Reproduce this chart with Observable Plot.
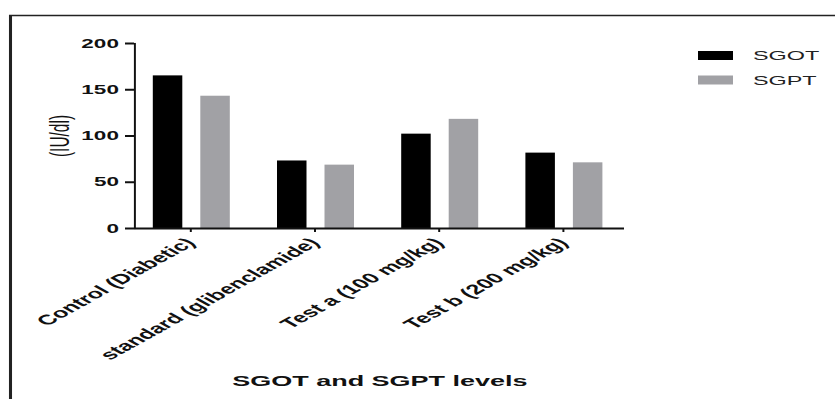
<!DOCTYPE html>
<html>
<head>
<meta charset="utf-8">
<script src="https://cdn.jsdelivr.net/npm/d3@7"></script>
<script src="https://cdn.jsdelivr.net/npm/@observablehq/plot@0.6"></script>
<style>
  html, body { margin: 0; padding: 0; background: #fff; }
  #chart svg { display: block; }
</style>
</head>
<body>
<div id="chart"></div>
<script>
// Treatment groups and measured enzyme levels (IU/dl)
const categories = ["Control (Diabetic)", "standard (glibenclamide)", "Test a (100 mg/kg)", "Test b (200 mg/kg)"];
const series = ["SGOT", "SGPT"];
const sgot = [165, 73, 102, 81.5];
const sgpt = [143, 68.5, 118, 71];
const yTicks = [0, 50, 100, 150, 200];
const seriesColors = ["#000000", "#a1a1a5"];
const yLabel = "(IU/dl)";
const xTitle = "SGOT and SGPT levels";

const rows = categories.flatMap((c, i) => [
  {category: c, series: series[0], value: sgot[i]},
  {category: c, series: series[1], value: sgpt[i]}
]);

// The chart is laid out on a narrow canvas and then stretched horizontally.
const STRETCH = 1.8;
const W = 835, H = 399;
const w = W / STRETCH;
const s = v => v / STRETCH;          // horizontal pixel -> canvas pixel

const font = "'Liberation Sans', Arial, sans-serif";
const step = 125.7;                  // width of one group band (stretched px)

const plot = Plot.plot({
  width: w,
  height: H,
  marginTop: 43,
  marginBottom: H - 228,
  marginLeft: s(134),
  marginRight: w - s(624),
  style: {fontFamily: font, background: "#fff", color: "#111"},
  x: {domain: categories, range: [s(125.5), s(125.5 + 4 * step)], padding: 0, label: null},
  y: {domain: [0, 200], label: null},
  color: {domain: series, range: seriesColors},
  marks: [
    Plot.barY(rows.filter(d => d.series === series[0]), {
      x: "category", y: "value", fill: "series",
      insetLeft: s(25), insetRight: s(step - 56)
    }),
    Plot.barY(rows.filter(d => d.series === series[1]), {
      x: "category", y: "value", fill: "series",
      insetLeft: s(72.5), insetRight: s(step - 103.5)
    }),
    Plot.ruleY([0], {stroke: "#111", strokeWidth: 2}),
    Plot.frame({anchor: "left", stroke: "#111", strokeWidth: 1.1}),
    Plot.axisY({
      ticks: yTicks, tickSize: s(9), tickPadding: s(7), strokeWidth: 2,
      fontSize: 12.5, fontWeight: "bold", label: null
    }),
    Plot.axisX({
      tickSize: 4, tickPadding: 8, tickRotate: -45, strokeWidth: 1.1,
      fontSize: 14, fontWeight: "bold", label: null
    }),
    Plot.text([yLabel], {
      frameAnchor: "left", textAnchor: "middle", rotate: -90, dx: -s(134 - 59),
      fontSize: 15.5, fill: "#111"
    }),
    Plot.text([xTitle], {
      frameAnchor: "bottom", dy: 153, lineAnchor: "middle",
      fontSize: 15, fontWeight: "bold", fill: "#111"
    })
  ]
});

const svg = d3.select(plot);

// Legend built from the series names and the color scale
const color = plot.scale("color");
const legend = svg.append("g")
  .attr("font-family", font).attr("font-size", 13).attr("text-anchor", "start");
series.forEach((name, i) => {
  legend.append("rect")
    .attr("x", s(698)).attr("y", 51 + i * 24.5)
    .attr("width", s(35)).attr("height", 9)
    .attr("fill", color.apply(name));
  legend.append("text")
    .attr("x", s(753)).attr("y", 60 + i * 25)
    .attr("fill", "#222")
    .text(name);
});

// Open box around the figure (top and left edges)
svg.append("path")
  .attr("d", `M${s(10.5)},${H + 5}V15.5H${w + 5}`)
  .attr("fill", "none").attr("stroke", "#222").attr("stroke-width", 1.7);

// Stretch the narrow canvas to the full window width
svg.attr("viewBox", `0 0 ${w} ${H}`)
  .attr("width", W).attr("height", H)
  .attr("preserveAspectRatio", "none")
  .style("max-width", "none").style("width", W + "px").style("height", H + "px");

document.getElementById("chart").appendChild(plot);
</script>
</body>
</html>
